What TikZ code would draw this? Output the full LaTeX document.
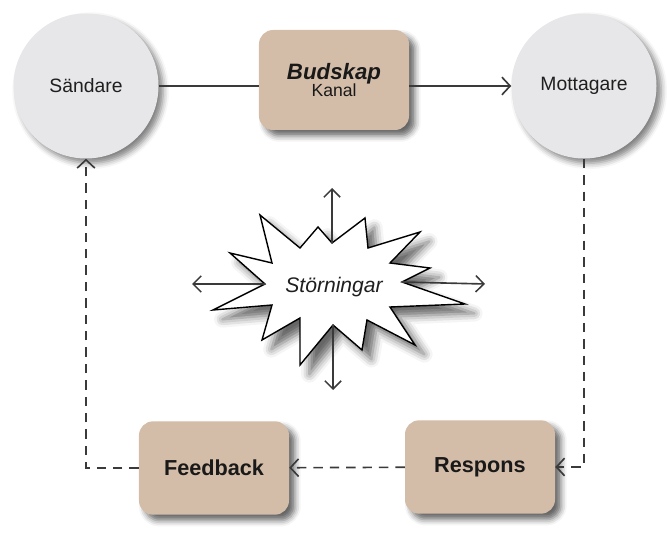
\documentclass[tikz,border=0pt]{standalone}
\usepackage{fontspec}
\setmainfont{Liberation Sans}
\usetikzlibrary{arrows.meta,shadows.blur}
\definecolor{boxfill}{HTML}{D4BDA8}
\definecolor{circfill}{HTML}{E7E7E9}
\definecolor{linec}{HTML}{3A3A3A}
\tikzset{
  pic/.style={x=0.03cm,y=-0.03cm},
  circ/.style={circle,fill=circfill,minimum size=4.35cm,inner sep=0pt,
    blur shadow={shadow xshift=4pt,shadow yshift=-4pt,shadow blur radius=5pt,shadow opacity=50},
    font=\fontsize{16.5}{18}\selectfont,text=black!88},
  box/.style={rounded corners=12pt,fill=boxfill,minimum width=4.5cm,minimum height=3.0cm,
    inner sep=0pt,align=center,
    blur shadow={shadow xshift=5pt,shadow yshift=-5pt,shadow blur radius=5pt,shadow opacity=60},
    text=black!90},
  boxlabel/.style={font=\fontsize{18.5}{20}\selectfont\bfseries},
  conn/.style={draw=linec,line width=1.7pt},
  dconn/.style={draw=linec,line width=1.4pt,dash pattern=on 8pt off 6pt},
  tip/.style={-{Straight Barb[length=7pt,width=15pt,line width=1.4pt]}},
  startip/.style={-{Straight Barb[length=7pt,width=14pt,line width=1.3pt]}},
  starline/.style={draw=linec,line width=1.4pt}
}
\begin{document}
\begin{tikzpicture}[pic]
\useasboundingbox (0,0) rectangle (667,541);
% nodes
\node[circ] (s) at (86,86) {Sändare};
\node[circ] (m) at (584,86) {Mottagare};
\node[box] (b) at (334,80) {\fontsize{19}{20}\selectfont\bfseries\itshape Budskap\\[-1pt]\fontsize{15}{16}\selectfont Kanal};
\node[box,minimum height=2.8cm,boxlabel] (f) at (214,468) {Feedback};
\node[box,minimum height=2.8cm,boxlabel] (r) at (480,467) {Respons};
% star
\filldraw[fill=white,draw=black,line width=1.2pt,line join=miter,
  blur shadow={shadow xshift=8pt,shadow yshift=-8pt,shadow blur radius=7pt,shadow opacity=60}]
  (260,215) -- (300,248) -- (318,227) -- (332,243) -- (365,218) -- (368,248)
  -- (420,232) -- (390,263) -- (430,268) -- (402,282) -- (465,304) -- (390,307)
  -- (415,345) -- (367,320) -- (362,350) -- (333,325) -- (300,365) -- (300,318)
  -- (262,340) -- (272,305) -- (213,310) -- (265,284) -- (230,253) -- (272,263) -- cycle;
\node[font=\fontsize{18}{20}\selectfont\itshape,text=black!88] (st) at (334,287) {Störningar};
\coordinate (upin) at (332,243);
\coordinate (dnin) at (333,325);
\coordinate (lfin) at (265,284);
\coordinate (rtin) at (402,282);
\coordinate (up) at (332,188);
\coordinate (dn) at (333,390);
\coordinate (lf) at (192,284);
\coordinate (rt) at (485,284);
\draw[starline,startip] (upin) -- (up);
\draw[starline,startip] (dnin) -- (dn);
\draw[starline,startip] (lfin) -- (lf);
\draw[starline,startip] (rtin) -- (rt);
% connectors
\draw[conn] (s.east) -- (s.east -| b.west);
\draw[conn,tip] (m.west -| b.east) -- (m.west);
\draw[dconn,tip] (m) |- (r);
\draw[dconn,tip] (r) -- (f);
\draw[dconn,tip] (f) -| (s);
\end{tikzpicture}
\end{document}
